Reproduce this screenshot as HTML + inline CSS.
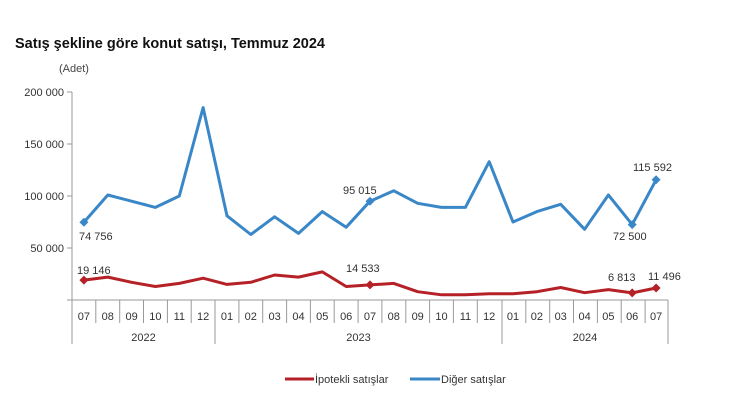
<!DOCTYPE html>
<html><head><meta charset="utf-8"><style>
body{margin:0;background:#fff;}
svg{display:block;font-family:"Liberation Sans",Arial,sans-serif;}
</style></head><body>
<svg width="730" height="420" viewBox="0 0 730 420" xmlns="http://www.w3.org/2000/svg">
<text x="15" y="48" font-size="14.5" font-weight="bold" fill="#111">Satış şekline göre konut satışı, Temmuz 2024</text>
<text x="59" y="72" font-size="11" fill="#444">(Adet)</text>
<g font-size="11" fill="#333" text-anchor="end">
<text x="64" y="96">200 000</text>
<text x="64" y="148">150 000</text>
<text x="64" y="200">100 000</text>
<text x="64" y="252">50 000</text>
</g>
<g stroke="#999" stroke-width="1" fill="none">
<line x1="72" y1="92" x2="72" y2="300"/>
<line x1="67" y1="92" x2="72" y2="92"/>
<line x1="67" y1="144" x2="72" y2="144"/>
<line x1="67" y1="196" x2="72" y2="196"/>
<line x1="67" y1="248" x2="72" y2="248"/>
<line x1="67" y1="300" x2="668" y2="300"/>
<line x1="72" y1="300" x2="72" y2="344"/>
<line x1="215" y1="300" x2="215" y2="344"/>
<line x1="502" y1="300" x2="502" y2="344"/>
<line x1="668" y1="300" x2="668" y2="344"/>
<line x1="95.8" y1="300" x2="95.8" y2="323"/><line x1="119.7" y1="300" x2="119.7" y2="323"/><line x1="143.5" y1="300" x2="143.5" y2="323"/><line x1="167.4" y1="300" x2="167.4" y2="323"/><line x1="191.2" y1="300" x2="191.2" y2="323"/>
<line x1="238.9" y1="300" x2="238.9" y2="323"/><line x1="262.7" y1="300" x2="262.7" y2="323"/><line x1="286.6" y1="300" x2="286.6" y2="323"/><line x1="310.4" y1="300" x2="310.4" y2="323"/><line x1="334.2" y1="300" x2="334.2" y2="323"/><line x1="358.1" y1="300" x2="358.1" y2="323"/><line x1="381.9" y1="300" x2="381.9" y2="323"/><line x1="405.8" y1="300" x2="405.8" y2="323"/><line x1="429.6" y1="300" x2="429.6" y2="323"/><line x1="453.4" y1="300" x2="453.4" y2="323"/><line x1="477.3" y1="300" x2="477.3" y2="323"/>
<line x1="525.8" y1="300" x2="525.8" y2="323"/><line x1="549.7" y1="300" x2="549.7" y2="323"/><line x1="573.5" y1="300" x2="573.5" y2="323"/><line x1="597.4" y1="300" x2="597.4" y2="323"/><line x1="621.2" y1="300" x2="621.2" y2="323"/><line x1="645.1" y1="300" x2="645.1" y2="323"/>
</g>
<g font-size="11" fill="#333" text-anchor="middle">
<text x="83.9" y="320">07</text><text x="107.8" y="320">08</text><text x="131.6" y="320">09</text><text x="155.4" y="320">10</text><text x="179.3" y="320">11</text><text x="203.1" y="320">12</text>
<text x="227" y="320">01</text><text x="250.8" y="320">02</text><text x="274.6" y="320">03</text><text x="298.5" y="320">04</text><text x="322.3" y="320">05</text><text x="346.2" y="320">06</text><text x="370" y="320">07</text><text x="393.8" y="320">08</text><text x="417.7" y="320">09</text><text x="441.5" y="320">10</text><text x="465.4" y="320">11</text><text x="489.2" y="320">12</text>
<text x="513" y="320">01</text><text x="536.9" y="320">02</text><text x="560.7" y="320">03</text><text x="584.6" y="320">04</text><text x="608.4" y="320">05</text><text x="632.2" y="320">06</text><text x="656.1" y="320">07</text>
<text x="143.5" y="341">2022</text><text x="358.5" y="341">2023</text><text x="585" y="341">2024</text>
</g>
<polyline fill="none" stroke="#3a87c8" stroke-width="3" stroke-linejoin="round" points="83.9,222.3 107.8,195 131.6,201.2 155.4,207.4 179.3,196 203.1,107.6 227,215.8 250.8,234.5 274.6,216.8 298.5,233.4 322.3,211.6 346.2,227.2 370,201.2 393.8,190.8 417.7,203.3 441.5,207.4 465.4,207.4 489.2,161.7 513,222 536.9,211.6 560.7,204.3 584.6,229.3 608.4,195 632.2,224.6 656.1,179.8"/>
<polyline fill="none" stroke="#b52126" stroke-width="3" stroke-linejoin="round" points="83.9,280.1 107.8,277.1 131.6,282.3 155.4,286.5 179.3,283.4 203.1,278.2 227,284.4 250.8,282.3 274.6,275 298.5,277.1 322.3,271.9 346.2,286.5 370,284.9 393.8,283.4 417.7,291.7 441.5,294.8 465.4,294.8 489.2,293.8 513,293.8 536.9,291.7 560.7,287.5 584.6,292.7 608.4,289.6 632.2,292.9 656.1,288"/>
<g fill="#3a87c8">
<path d="M83.9 217.8l4.5 4.5-4.5 4.5-4.5-4.5z"/><path d="M370 196.7l4.5 4.5-4.5 4.5-4.5-4.5z"/><path d="M632.2 220.1l4.5 4.5-4.5 4.5-4.5-4.5z"/><path d="M656.1 175.3l4.5 4.5-4.5 4.5-4.5-4.5z"/>
</g>
<g fill="#b52126">
<path d="M83.9 275.6l4.5 4.5-4.5 4.5-4.5-4.5z"/><path d="M370 280.4l4.5 4.5-4.5 4.5-4.5-4.5z"/><path d="M632.2 288.4l4.5 4.5-4.5 4.5-4.5-4.5z"/><path d="M656.1 283.5l4.5 4.5-4.5 4.5-4.5-4.5z"/>
</g>
<g font-size="11" fill="#333">
<text x="79" y="240">74 756</text>
<text x="77" y="274">19 146</text>
<text x="343" y="194">95 015</text>
<text x="346" y="272">14 533</text>
<text x="633" y="171">115 592</text>
<text x="613" y="240">72 500</text>
<text x="608" y="281">6 813</text>
<text x="648" y="280">11 496</text>
</g>
<line x1="285" y1="379" x2="314" y2="379" stroke="#b52126" stroke-width="3"/>
<text x="315" y="383" font-size="11" fill="#333">İpotekli satışlar</text>
<line x1="410" y1="379" x2="440" y2="379" stroke="#3a87c8" stroke-width="3"/>
<text x="441" y="383" font-size="11" fill="#333">Diğer satışlar</text>
</svg>
</body></html>
